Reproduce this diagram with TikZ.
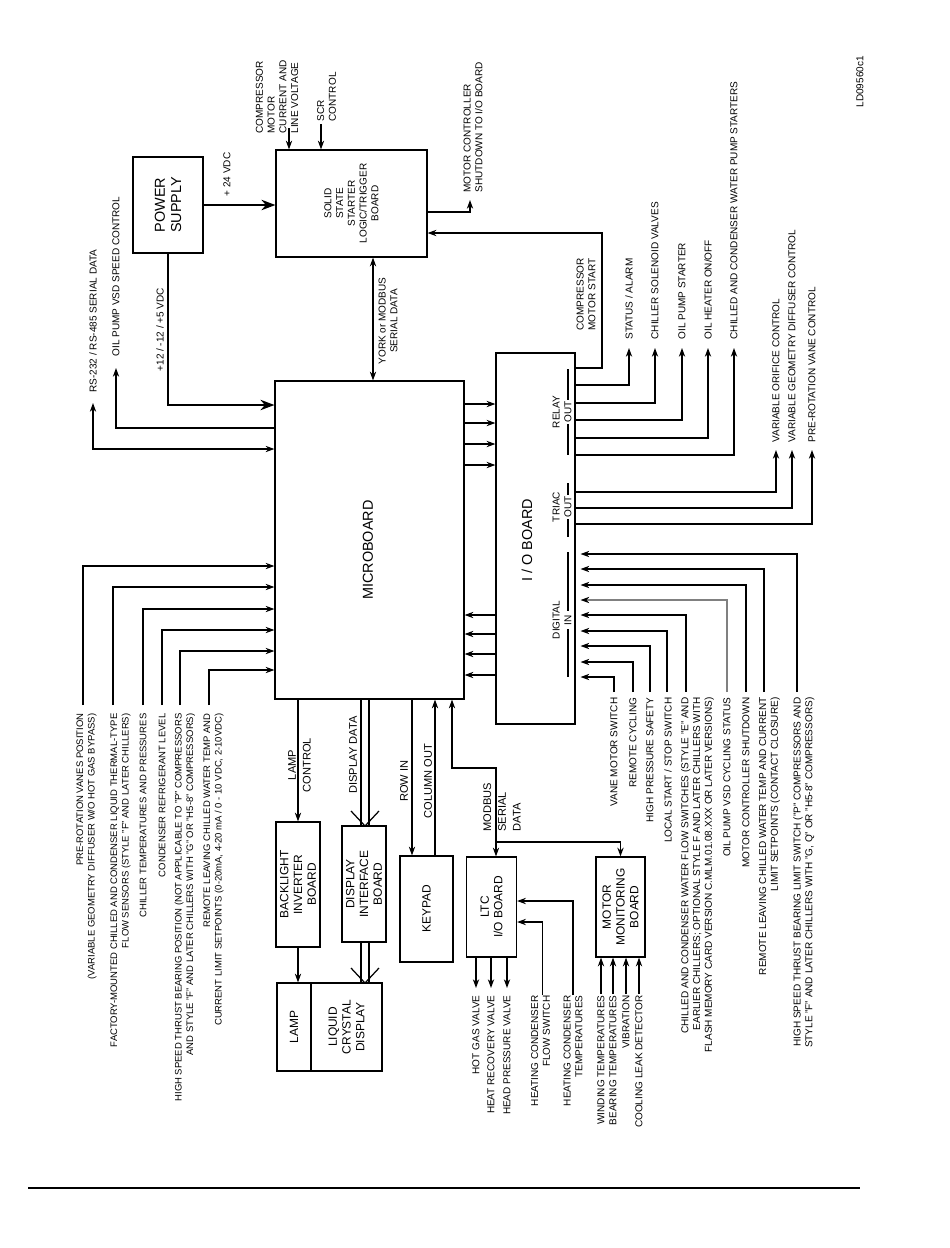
\documentclass[tikz,border=0pt]{standalone}
\usepackage{fontspec}
\setmainfont{Liberation Sans}
\usetikzlibrary{arrows.meta,positioning}

\newcommand\lblfont{\fontsize{5.7}{6.7}\selectfont}
\newcommand\lblsmfont{\fontsize{5.4}{6.5}\selectfont}
\newcommand\boxlblfont{\fontsize{6.8}{7.8}\selectfont}
\newcommand\midlblfont{\fontsize{6.3}{8.4}\selectfont}
\newcommand\biglblfont{\fontsize{8.2}{9.2}\selectfont}

\tikzset{
  lbl/.style={rotate=90, inner sep=0pt, font=\lblfont},
  lbltop/.style={lbl, anchor=east, align=right},
  lblbot/.style={lbl, anchor=west, align=left},
  lblmid/.style={lbl, align=center},
  box/.style={draw, inner sep=0pt},
  boxtext/.style={rotate=90, inner sep=0pt, align=center, font=\boxlblfont},
  >={Stealth[length=5pt,width=3.6pt]},
  bigtip/.style={-{Stealth[length=8pt,width=6pt]}}
}

\begin{document}
\begin{tikzpicture}[x=0.02cm, y=-0.02cm, line width=0.7pt]

\useasboundingbox (0,0) rectangle (950,1248);

% Boards
\node[box, minimum width=1.4cm, minimum height=1.92cm] (ps) at (168,205) {};
\node[box, minimum width=3.02cm, minimum height=2.14cm] (sss) at (351.5,203.5) {};
\node[box, minimum width=3.78cm, minimum height=6.36cm] (micro) at (369.5,540) {};
\node[box, minimum width=1.58cm, minimum height=7.42cm] (io) at (535.5,538.5) {};
\node[box, minimum width=0.88cm, minimum height=2.5cm] (bli) at (298,884.5) {};
\node[box, minimum width=0.88cm, minimum height=2.32cm] (dib) at (364,884) {};
\node[box, minimum width=1.06cm, minimum height=2.12cm] (kp) at (426.5,909) {};
\node[box, minimum width=0.68cm, minimum height=1.76cm] (lamp) at (294,1027) {};
\node[box, minimum width=1.42cm, minimum height=1.76cm] (lcd) at (346.5,1027) {};
\node[box, minimum width=1.0cm, minimum height=2.0cm] (ltc) at (491.5,907) {};
\node[box, minimum width=0.98cm, minimum height=2.0cm] (mmb) at (620.5,907) {};

% Board names
\node[boxtext, font=\biglblfont] (pstext) at (ps) {POWER\\SUPPLY};
\node[boxtext, font=\lblfont] (ssstext) at (sss) {SOLID\\STATE\\STARTER\\LOGIC/TRIGGER\\BOARD};
\node[boxtext, font=\biglblfont] (microtext) at (368,550) {MICROBOARD};
\node[boxtext, font=\biglblfont] (iotext) at (527,540) {I / O BOARD};
\node[boxtext] (blitext) at (bli) {BACKLIGHT\\INVERTER\\BOARD};
\node[boxtext] (dibtext) at (dib) {DISPLAY\\INTERFACE\\BOARD};
\node[boxtext] (kptext) at (kp) {KEYPAD};
\node[boxtext] (lamptext) at (lamp) {LAMP};
\node[boxtext] (lcdtext) at (lcd) {LIQUID\\CRYSTAL\\DISPLAY};
\node[boxtext] (ltctext) at (ltc) {LTC\\I/O BOARD};
\node[boxtext] (mmbtext) at (mmb) {MOTOR\\MONITORING\\BOARD};

% I/O board groups
\node[lblmid] (relaytext) at (562,412) {RELAY\\OUT};
\node[lblmid] (triactext) at (562,507) {TRIAC\\OUT};
\node[lblmid] (digtext) at (562,620) {DIGITAL\\IN};
\draw (568,369) -- (568,400) (568,424) -- (568,455);
\draw (568,483) -- (568,495) (568,519) -- (568,537);
\draw (568,552) -- (568,611) (568,629) -- (568,677);

% Drawing number
\node[lblbot] (dwgno) at (860,108) {LD09560c1};

% Power supply
\draw[bigtip] (ps.east) -- (ps.east -| sss.west);
\draw[bigtip] (ps.south) |- (0,405 -| micro.west);
\node[lblbot] (v24text) at (227,197) {+ 24 VDC};
\node[lblbot] (v12text) at (160,372) {+12 / -12 / +5 VDC};

% Microboard left side
\draw[->] (0,428 -| micro.west) -| (116,368);
\draw[<->] (93,403) |- (0,449 -| micro.west);
\node[lblbot] (optext) at (116,357) {OIL PUMP VSD SPEED CONTROL};
\node[lblbot] (rstext) at (93,393) {RS-232 / RS-485 SERIAL DATA};

\foreach \x/\y in {83/566, 113/587, 143/609, 162/630, 180/651, 209/670}
  \draw[->] (\x,705) |- (0,\y -| micro.west);
\node[lbltop, font=\lblsmfont] (in1) at (86.5,713) {PRE-ROTATION VANES POSITION\\(VARIABLE GEOMETRY DIFFUSER W/O HOT GAS BYPASS)};
\node[lbltop, font=\lblsmfont] (in2) at (120.5,713) {FACTORY-MOUNTED CHILLED AND CONDENSER LIQUID THERMAL-TYPE\\FLOW SENSORS (STYLE "F" AND LATER CHILLERS)};
\node[lbltop, font=\lblsmfont] (in3) at (143,713) {CHILLER TEMPERATURES AND PRESSURES};
\node[lbltop, font=\lblsmfont] (in4) at (162,713) {CONDENSER REFRIGERANT LEVEL};
\node[lbltop, font=\lblsmfont] (in5) at (185,713) {HIGH SPEED THRUST BEARING POSITION (NOT APPLICABLE TO "P" COMPRESSORS\\AND STYLE "F" AND LATER CHILLERS WITH "G" OR "H5-8" COMPRESSORS)};
\node[lbltop, font=\lblsmfont] (in6) at (213.5,713) {REMOTE LEAVING CHILLED WATER TEMP AND\\CURRENT LIMIT SETPOINTS (0-20mA, 4-20 mA / 0 - 10 VDC, 2-10VDC)};

% Solid state starter
\draw[->] (289,128) -- (289,0 |- sss.north);
\draw[->] (321,124) -- (321,0 |- sss.north);
\node[lblbot] (cmtext) at (277,134) {COMPRESSOR\\MOTOR\\CURRENT AND\\LINE VOLTAGE};
\node[lblbot] (scrtext) at (326.5,122) {SCR\\CONTROL};
\draw[<->] (373,0 |- sss.south) -- (373,0 |- micro.north);
\node[lblmid] (yorktext) at (388,321) {YORK or MODBUS\\SERIAL DATA};
\draw[->] (0,212 -| sss.east) -| (470,200);
\node[lblbot] (mcstext) at (473,193) {MOTOR CONTROLLER\\SHUTDOWN TO I/O BOARD};
\draw[->] (0,368 -| io.east) -| (602,233) -- (0,233 -| sss.east);
\node[lblbot] (cmstext) at (586,331) {COMPRESSOR\\MOTOR START};

% Microboard to I/O board
\foreach \y in {404,423,444,465}
  \draw[->] (0,\y -| micro.east) -- (0,\y -| io.west);
\foreach \y in {615,634,654,675}
  \draw[->] (0,\y -| io.west) -- (0,\y -| micro.east);

% Relay outputs
\foreach \y/\x in {385/629, 403/655, 420/682, 438/708, 455/734}
  \draw[->] (0,\y -| io.east) -| (\x,348);
\node[lblbot] (ro1) at (629,340) {STATUS / ALARM};
\node[lblbot] (ro2) at (655,340) {CHILLER SOLENOID VALVES};
\node[lblbot] (ro3) at (682,340) {OIL PUMP STARTER};
\node[lblbot] (ro4) at (708,340) {OIL HEATER ON/OFF};
\node[lblbot] (ro5) at (734,340) {CHILLED AND CONDENSER WATER PUMP STARTERS};

% Triac outputs
\foreach \y/\x in {492/776, 508/792, 524/812}
  \draw[->] (0,\y -| io.east) -| (\x,450);
\node[lblbot] (to1) at (776,443) {VARIABLE ORIFICE CONTROL};
\node[lblbot] (to2) at (792,443) {VARIABLE GEOMETRY DIFFUSER CONTROL};
\node[lblbot] (to3) at (812,443) {PRE-ROTATION VANE CONTROL};

% Digital inputs
\foreach \x/\y in {614/677, 633/662, 650/646, 667/631, 686/615, 746/585, 764/569, 797/554}
  \draw[->, shorten >=2.8pt] (\x,692) |- (0,\y -| io.east);
\draw[gray, -{Stealth[length=5pt,width=3.6pt,black]}, shorten >=2.8pt] (727,692) |- (0,600 -| io.east);
\node[lbltop] (di1) at (614,697) {VANE MOTOR SWITCH};
\node[lbltop] (di2) at (633,697) {REMOTE CYCLING};
\node[lbltop] (di3) at (650,697) {HIGH PRESSURE SAFETY};
\node[lbltop] (di4) at (668,697) {LOCAL START / STOP SWITCH};
\node[lbltop] (di5) at (697.5,697) {CHILLED AND CONDENSER WATER FLOW SWITCHES (STYLE "E" AND\\EARLIER CHILLERS; OPTIONAL STYLE F AND LATER CHILLERS WITH\\FLASH MEMORY CARD VERSION C.MLM.01.08.XXX OR LATER VERSIONS)};
\node[lbltop] (di6) at (727,697) {OIL PUMP VSD CYCLING STATUS};
\node[lbltop] (di7) at (746,697) {MOTOR CONTROLLER SHUTDOWN};
\node[lbltop] (di8) at (769.5,697) {REMOTE LEAVING CHILLED WATER TEMP AND CURRENT\\LIMIT SETPOINTS (CONTACT CLOSURE)};
\node[lbltop] (di9) at (804,697) {HIGH SPEED THRUST BEARING LIMIT SWITCH ("P" COMPRESSORS AND\\STYLE "F" AND LATER CHILLERS WITH "G, Q" OR "H5-8" COMPRESSORS)};

% Display and keypad
\draw[->] (micro.south -| bli.north) -- (bli.north);
\draw[->] (bli.south) -- (bli.south |- lamp.north);
\node[lblmid, font=\midlblfont] (lctext) at (299.5,765) {LAMP\\CONTROL};
\draw (361,0 |- micro.south) -- (361,0 |- dib.north) (369,0 |- micro.south) -- (369,0 |- dib.north);
\draw (351,811) -- (365,826) -- (379,811);
\draw (361,0 |- dib.south) -- (361,0 |- lcd.north) (369,0 |- dib.south) -- (369,0 |- lcd.north);
\draw (351,968) -- (365,983) -- (379,968);
\node[lblmid, font=\midlblfont] (ddtext) at (353,755) {DISPLAY DATA};
\draw[->] (412,0 |- micro.south) -- (412,0 |- kp.north);
\draw[->] (435,0 |- kp.north) -- (435,0 |- micro.south);
\node[lblmid, font=\midlblfont] (rowtext) at (404,781) {ROW IN};
\node[lblmid, font=\midlblfont] (coltext) at (428,781) {COLUMN OUT};

% Modbus
\coordinate (mbj) at (496,842);
\draw[<->] (496,0 |- ltc.north) -- (496,768) -| (452,0 |- micro.south);
\draw[->] (mbj) -| (mmb.north);
\node[lblbot, font=\midlblfont] (mbtext) at (502,832) {MODBUS\\SERIAL\\DATA};

% LTC I/O board
\foreach \x in {476,491,507}
  \draw[->] (\x,0 |- ltc.south) -- (\x,988);
\node[lbltop] (lo1) at (476,995) {HOT GAS VALVE};
\node[lbltop] (lo2) at (491,995) {HEAT RECOVERY VALVE};
\node[lbltop] (lo3) at (507,995) {HEAD PRESSURE VALVE};
\draw[->] (542.5,995) |- (0,922 -| ltc.east);
\draw[->] (573,995) |- (0,901 -| ltc.east);
\node[lbltop] (hcfs) at (540.5,995) {HEATING CONDENSER\\FLOW SWITCH};
\node[lbltop] (hct) at (573,995) {HEATING CONDENSER\\TEMPERATURES};

% Motor monitoring board
\foreach \x in {601,613,626,639}
  \draw[->] (\x,994) -- (\x,0 |- mmb.south);
\node[lbltop] (mm1) at (601,995) {WINDING TEMPERATURES};
\node[lbltop] (mm2) at (613,995) {BEARING TEMPERATURES};
\node[lbltop] (mm3) at (626,995) {VIBRATION};
\node[lbltop] (mm4) at (639,995) {COOLING LEAK DETECTOR};

% Page rule
\draw[line width=1.2pt] (28,1188) -- (860,1188);

\end{tikzpicture}
\end{document}
